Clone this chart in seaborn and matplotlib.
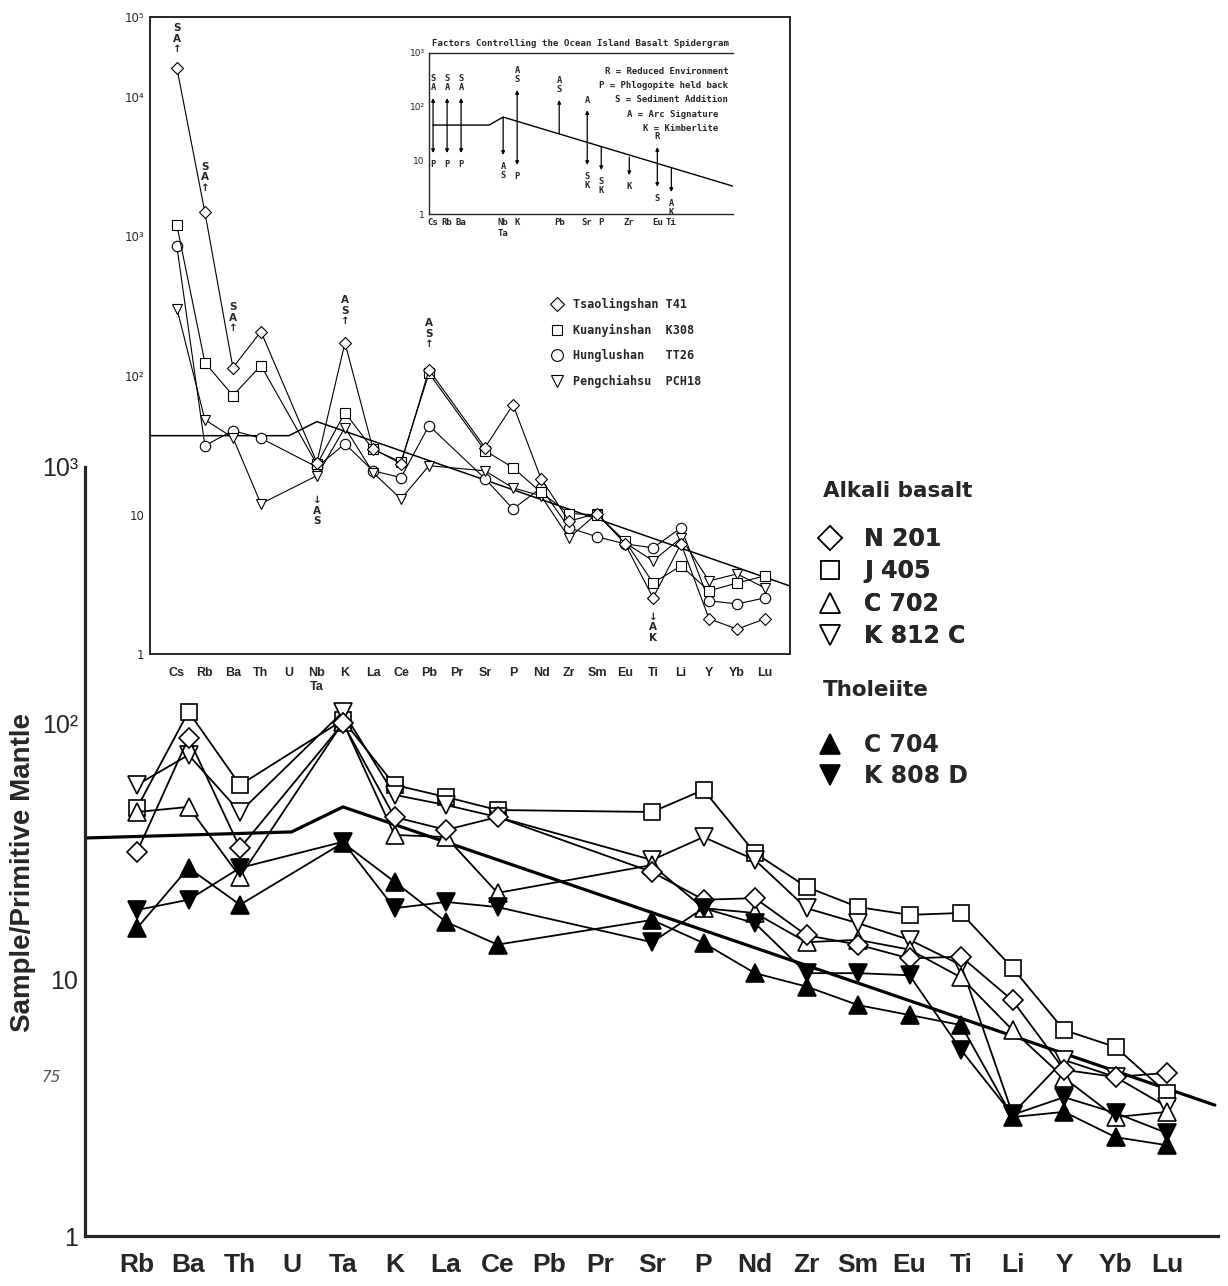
import numpy as np
import pandas as pd
import matplotlib
matplotlib.use("Agg")
import matplotlib.pyplot as plt
import seaborn as sns
from matplotlib.ticker import FixedLocator, NullFormatter
from matplotlib.lines import Line2D

nan = np.nan

# ---------------- main spidergram (Sample / Primitive Mantle) ----------------
main_elements = ["Rb", "Ba", "Th", "U", "Ta", "K", "La", "Ce", "Pb", "Pr", "Sr",
                 "P", "Nd", "Zr", "Sm", "Eu", "Ti", "Li", "Y", "Yb", "Lu"]
n201 = [31.5, 87.7, 32.6, nan, 100, 43.1, 38.4, 43.1, nan, nan, 26.3, 20.5, 20.8,
        14.9, 13.7, 12.1, 12.3, 8.3, 4.45, 4.17, 4.33]
j405 = [46.8, 111, 57.5, nan, 103, 57.5, 51.6, 45.9, nan, nan, 45.1, 55.0, 31.2,
        23.0, 19.2, 17.9, 18.2, 11.1, 6.36, 5.46, 3.61]
c702 = [45.1, 47.2, 25.2, nan, 101, 36.7, 36.0, 21.8, nan, nan, 28.0, 19.0, 18.2,
        14.0, 14.3, 13.1, 10.2, 6.36, 4.14, 2.91, 3.05]
k812c = [57.5, 75.3, 45.1, nan, 111, 52.6, 48.0, 43.1, nan, nan, 29.3, 36.0, 29.3,
         19.0, 16.6, 14.3, 11.4, 3.0, 4.86, 4.17, 3.19]
c704 = [15.9, 27.3, 19.6, nan, 34.2, 24.1, 16.8, 13.7, nan, nan, 17.1, 13.9, 10.6,
        9.4, 7.96, 7.28, 6.65, 2.91, 3.05, 2.43, 2.26]
k808d = [18.7, 20.5, 27.3, nan, 34.5, 19.0, 20.1, 19.2, nan, nan, 14.0, 19.0, 16.6,
         10.6, 10.6, 10.4, 5.32, 2.97, 3.48, 3.02, 2.52]
# reference (OIB) line of the main plot: position in element units, value
main_ref_pos = [-1.01, 3.0, 4.0, 20.93]
main_ref_val = [35.7, 37.7, 47.2, 3.24]

# ---------------- inset spidergram ----------------
inset_elements = ["Cs", "Rb", "Ba", "Th", "U", "Nb\nTa", "K", "La", "Ce", "Pb", "Pr",
                  "Sr", "P", "Nd", "Zr", "Sm", "Eu", "Ti", "Li", "Y", "Yb", "Lu"]
t41 = [23000, 1490, 114, 207, nan, 23.7, 172, 29.8, 23.3, 110, nan, 30.4, 61.8,
       18.2, 9.0, 10.2, 6.2, 2.53, 6.2, 1.79, 1.51, 1.79]
k308 = [1200, 124, 71.8, 118, nan, 23.0, 54.2, 29.5, 24.0, 104, nan, 28.9, 21.8,
        14.5, 10.2, 10.0, 6.5, 3.24, 4.3, 2.84, 3.24, 3.64]
tt26 = [847, 31.4, 40.2, 35.5, nan, 22.0, 32.4, 20.7, 18.5, 43.7, nan, 18.2, 11.0,
        15.6, 8.06, 6.95, 6.18, 5.79, 8.06, 2.41, 2.29, 2.53]
pch18 = [303, 48.2, 35.8, 12.0, nan, 19.1, 42.3, 20.1, 13.0, 22.5, nan, 20.7, 15.6,
         13.7, 6.83, 10.2, 6.3, 4.67, 6.83, 3.35, 3.76, 2.98]
inset_ref_pos = [-0.96, 4.0, 5.0, 21.89]
inset_ref_val = [37.0, 37.0, 46.7, 3.08]
# annotations: element, series, text, offset(pt), above?
inset_notes = [("Cs", "t41", "S\nA\n\u2191", 10, True),
               ("Rb", "t41", "S\nA\n\u2191", 14, True),
               ("Ba", "t41", "S\nA\n\u2191", 25, True),
               ("K", "t41", "A\nS\n\u2191", 12, True),
               ("Pb", "t41", "A\nS\n\u2191", 15, True),
               ("Nb\nTa", "pch18", "\u2193\nA\nS", 14, False),
               ("Ti", "t41", "\u2193\nA\nK", 10, False)]

# ---------------- "Factors controlling" small inset ----------------
factor_elements = ["Cs", "Rb", "Ba", "Nb\nTa", "K", "Pb", "Sr", "P", "Zr", "Eu", "Ti"]
factor_low = [13.7, 13.7, 13.7, 12.6, 8.2, 32.0, 8.2, 6.6, 5.3, 3.2, 2.57]
factor_high = [145, 145, 145, 64, 204, 133, 86, 17.7, 11.5, 17.7, 7.2]
factor_kind = ["both", "both", "both", "down", "both", "up", "both", "down", "down", "both", "down"]
factor_above = ["S\nA", "S\nA", "S\nA", "", "A\nS", "A\nS", "A", "", "", "R", ""]
factor_below = ["P", "P", "P", "A\nS", "P", "", "S\nK", "S\nK", "K", "S", "A\nK"]
factor_ref_pos = [0.0, 4.0, 5.0, 21.4]
factor_ref_val = [45.4, 45.4, 64.0, 3.3]
factor_key = ["R = Reduced Environment", "P = Phlogopite held back",
              "S = Sediment Addition", "A = Arc Signature", "K = Kimberlite"]

# ---------------------------------------------------------------------------
sns.set_style("white")
plt.rcParams["font.family"] = ["DejaVu Sans"]
NARROW = ["Liberation Sans", "DejaVu Sans"]
MONO = ["DejaVu Sans Mono"]

W, H = 1228, 1286
fig = plt.figure(figsize=(W / 100, H / 100), dpi=100)
fig.patch.set_facecolor("white")


def rect(l, t, r, b):
    return [l / W, 1 - b / H, (r - l) / W, (b - t) / H]


def draw_series(ax, xs, ys, **kw):
    df = pd.DataFrame({"x": xs, "v": ys}).dropna()
    sns.lineplot(data=df, x="x", y="v", ax=ax, estimator=None, sort=False,
                 legend=False, color="black", **kw)


# ======================= main axes =======================
ax = fig.add_axes(rect(85, 467, 1218, 1236))
ax.set_facecolor("none")
xi = np.arange(len(main_elements))
draw_series(ax, main_ref_pos, main_ref_val, lw=2.3)
main_styles = [
    (j405, dict(marker="s", markersize=11.5, mfc="white")),
    (k812c, dict(marker="v", markersize=12.5, mfc="white")),
    (c702, dict(marker="^", markersize=12.5, mfc="white")),
    (n201, dict(marker="D", markersize=10.5, mfc="white")),
    (k808d, dict(marker="v", markersize=13, mfc="black")),
    (c704, dict(marker="^", markersize=13, mfc="black")),
]
for vals, st in main_styles:
    draw_series(ax, xi, vals, lw=1.3, mec="black", mew=1.2, **st)

ax.set_yscale("log")
ax.set_ylim(1, 1000)
ax.set_xlim(-1.01, 20.99)
ax.set_xlabel("")
ax.set_ylabel("")
for s in ("top", "right"):
    ax.spines[s].set_visible(False)
for s in ("left", "bottom"):
    ax.spines[s].set_linewidth(2.3)
ax.set_xticks(xi)
ax.set_xticklabels(main_elements, fontweight="bold", fontsize=19, family=NARROW)
ax.tick_params(axis="x", direction="in", length=15, width=1.5, pad=12)
ax.yaxis.set_major_locator(FixedLocator([1, 10, 100, 1000]))
ax.set_yticklabels(["1", "10", "10\u00b2", "10\u00b3"], fontsize=18, family=NARROW)
ax.yaxis.set_minor_locator(FixedLocator([k * 10 ** d for d in range(3) for k in range(2, 10)]))
ax.yaxis.set_minor_formatter(NullFormatter())
ax.tick_params(axis="y", which="major", direction="in", length=22, width=1.8, pad=5)
ax.tick_params(axis="y", which="minor", direction="in", length=12, width=1.5)

fig.text(23 / W, 1 - 872 / H, "Sample/Primitive Mantle", rotation=90, ha="center",
         va="center", fontsize=20, fontweight="bold", family=NARROW)
fig.text(42 / W, 1 - 1082 / H, "75", fontsize=11, style="italic", color="#555555")

# main legends
fig.text(823 / W, 1 - 491 / H, "Alkali basalt", fontsize=15.5, fontweight="bold",
         va="center", ha="left")
fig.text(823 / W, 1 - 690 / H, "Tholeiite", fontsize=15.5, fontweight="bold",
         va="center", ha="left")


def handle(marker, mfc, ms):
    return Line2D([], [], ls="none", marker=marker, markersize=ms, mfc=mfc,
                  mec="black", mew=1.2)


leg1 = fig.legend([handle("D", "white", 12), handle("s", "white", 13),
                   handle("^", "white", 14), handle("v", "white", 14)],
                  ["N 201", "J 405", "C 702", "K 812 C"], loc="upper left",
                  bbox_to_anchor=(818 / W, 1 - 527 / H), frameon=False, borderpad=0,
                  borderaxespad=0, handlelength=1.0, handletextpad=0.95,
                  labelspacing=0.36, prop=dict(size=17, weight="bold"))
fig.add_artist(leg1)
fig.legend([handle("^", "black", 14), handle("v", "black", 14)],
           ["C 704", "K 808 D"], loc="upper left",
           bbox_to_anchor=(818 / W, 1 - 733 / H), frameon=False, borderpad=0,
           borderaxespad=0, handlelength=1.0, handletextpad=0.95, labelspacing=0.3,
           prop=dict(size=17, weight="bold"))

# ======================= inset axes =======================
C = 80.0 / 139.0


def fwd(v):
    lv = np.log10(np.clip(np.asarray(v, dtype=float), 1e-300, None))
    return np.where(lv <= 4, lv, 4 + (lv - 4) * C)


def inv(t):
    t = np.asarray(t, dtype=float)
    return np.where(t <= 4, 10.0 ** t, 10.0 ** (4 + (t - 4) / C))


axi = fig.add_axes(rect(150, 17, 790, 654))
axi.set_zorder(2)
axi.set_facecolor("white")
ii = np.arange(len(inset_elements))
inset_series = {"t41": t41, "k308": k308, "tt26": tt26, "pch18": pch18}
draw_series(axi, inset_ref_pos, inset_ref_val, lw=1.1)
inset_styles = [("tt26", dict(marker="o", markersize=7.5)),
                ("pch18", dict(marker="v", markersize=7.5)),
                ("k308", dict(marker="s", markersize=6.5)),
                ("t41", dict(marker="D", markersize=6.5))]
for key, st in inset_styles:
    draw_series(axi, ii, inset_series[key], lw=0.8, mfc="white", mec="black",
                mew=0.8, **st)
axi.set_yscale("function", functions=(fwd, inv))
axi.set_ylim(1, 1e5)
axi.set_xlim(-0.96, 21.89)
axi.set_xlabel("")
axi.set_ylabel("")
for s in axi.spines.values():
    s.set_linewidth(1.4)
axi.set_xticks(ii)
axi.set_xticklabels(inset_elements, fontsize=9, fontweight="bold", family=NARROW,
                    linespacing=1.3, va="top")
axi.tick_params(axis="x", direction="in", length=5, width=0.9, pad=9)
axi.yaxis.set_major_locator(FixedLocator([1, 10, 100, 1e3, 1e4, 1e5]))
axi.set_yticklabels(["1", "10", "10\u00b2", "10\u00b3", "10\u2074", "10\u2075"], fontsize=8.5)
axi.yaxis.set_minor_locator(FixedLocator([k * 10 ** d for d in range(5) for k in range(2, 10)]))
axi.yaxis.set_minor_formatter(NullFormatter())
axi.tick_params(axis="y", which="major", direction="in", length=10, width=1.6, pad=4)
axi.tick_params(axis="y", which="minor", direction="in", length=6, width=0.8)

for el, key, txt, off, above in inset_notes:
    i = inset_elements.index(el)
    axi.annotate(txt, xy=(i, inset_series[key][i]), xytext=(0, off if above else -off),
                 textcoords="offset points", ha="center",
                 va="bottom" if above else "top", fontsize=7.5, fontweight="bold",
                 linespacing=1.05)

inset_handles = [Line2D([], [], ls="none", marker=m, markersize=ms, mfc="white",
                        mec="black", mew=0.8)
                 for m, ms in (("D", 7), ("s", 6.5), ("o", 8.5), ("v", 8))]
axi.legend(inset_handles, ["Tsaolingshan T41", "Kuanyinshan  K308",
                           "Hunglushan   TT26", "Pengchiahsu  PCH18"],
           loc="upper left", bbox_to_anchor=((551 - 150) / 640, 1 - (298 - 17) / 637),
           frameon=False, borderpad=0, borderaxespad=0, handlelength=1.0,
           handletextpad=0.9, labelspacing=1.07,
           prop=dict(family=MONO, size=8.5, weight="bold"))

# ======================= factors inset =======================
axf = fig.add_axes(rect(429, 53, 733, 214))
axf.set_zorder(3)
axf.set_facecolor("white")
draw_series(axf, factor_ref_pos, factor_ref_val, lw=1.0)
axf.set_yscale("log")
axf.set_ylim(1, 1000)
axf.set_xlim(-0.29, 21.4)
axf.set_xlabel("")
axf.set_ylabel("")
axf.spines["right"].set_visible(False)
for s in ("left", "bottom", "top"):
    axf.spines[s].set_linewidth(1.0)
fpos = [inset_elements.index(e) for e in factor_elements]
axf.set_xticks(fpos)
axf.set_xticklabels(factor_elements, fontsize=6.5, family=MONO, fontweight="bold",
                    linespacing=1.3, va="top")
axf.tick_params(axis="x", direction="in", length=3, width=0.8, pad=3)
axf.yaxis.set_major_locator(FixedLocator([1, 10, 100, 1000]))
axf.set_yticklabels(["1", "10", "10\u00b2", "10\u00b3"], fontsize=6.5)
axf.yaxis.set_minor_locator(FixedLocator([]))
axf.tick_params(axis="y", direction="in", length=3, width=0.8, pad=3)
axf.set_title("Factors Controlling the Ocean Island Basalt Spidergram", fontsize=6.6,
              family=MONO, fontweight="bold", pad=5)

for p, lo, hi, kind, ab, be in zip(fpos, factor_low, factor_high, factor_kind,
                                   factor_above, factor_below):
    if kind == "both":
        xy, xyt, style = (p, hi), (p, lo), "<|-|>"
    elif kind == "up":
        xy, xyt, style = (p, hi), (p, lo), "-|>"
    else:
        xy, xyt, style = (p, lo), (p, hi), "-|>"
    axf.annotate("", xy=xy, xytext=xyt,
                 arrowprops=dict(arrowstyle=style, lw=0.9, color="black",
                                 mutation_scale=5, shrinkA=0, shrinkB=0))
    if ab:
        axf.annotate(ab, xy=(p, hi), xytext=(0, 4), textcoords="offset points",
                     ha="center", va="bottom", fontsize=6.3, family=MONO,
                     fontweight="bold", linespacing=1.0)
    if be:
        axf.annotate(be, xy=(p, lo), xytext=(0, -5), textcoords="offset points",
                     ha="center", va="top", fontsize=6.3, family=MONO,
                     fontweight="bold", linespacing=1.0)

key_pos = [(0.984, 0.888), (0.984, 0.801), (0.984, 0.714), (0.951, 0.621), (0.951, 0.534)]
for (kx, ky), txt in zip(key_pos, factor_key):
    axf.text(kx, ky, txt, transform=axf.transAxes, ha="right", va="center",
             fontsize=6.5, family=MONO, fontweight="bold")

fig.savefig("out.png", dpi=100, facecolor="white")
